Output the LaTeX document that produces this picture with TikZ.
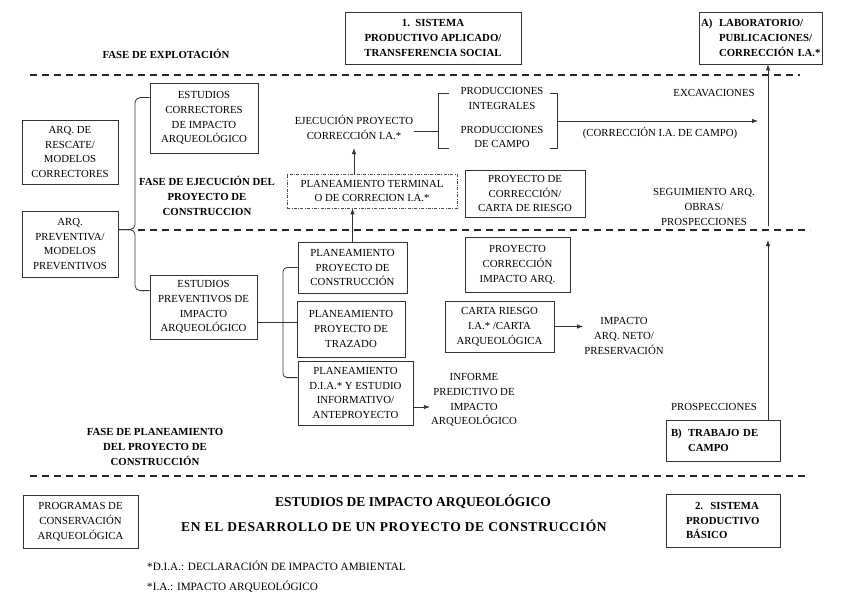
\documentclass[tikz,border=0pt]{standalone}
\usepackage{fontspec}
\setmainfont{Liberation Serif}
\usetikzlibrary{arrows.meta}
\begin{document}
\begin{tikzpicture}[x=1pt,y=-1pt,
  lw/.style={line width=0.8pt, draw=black!80},
  f/.style={font=\fontsize{10.8}{14.8}\selectfont},
  fb/.style={font=\fontsize{10.8}{14.8}\selectfont\bfseries},
  bx/.style={lw, f, align=center, inner sep=0pt},
  lbl/.style={f, align=center, inner sep=1pt},
  blbl/.style={fb, align=center, inner sep=1pt},
  phase/.style={line width=1.8pt, draw=black!85, dash pattern=on 7pt off 5pt},
  dd/.style={line width=0.6pt, draw=black!70, dash pattern=on 3pt off 1.5pt on 0.7pt off 1.5pt},
  arr/.style={lw, -{Latex[length=6pt,width=4.5pt]}},
  con/.style={lw},
]
\useasboundingbox (0,0) rectangle (848,599);
\fill[white] (0,0) rectangle (848,599);

% phase separators
\draw[phase] (30,75) -- (800,75);
\draw[phase] (138,230) -- (810,230);
\draw[phase] (30,476) -- (808,476);

% top row
\node[bx, fb, minimum width=176pt, minimum height=52pt] (sis1) at (433,38) {1.~~SISTEMA\\PRODUCTIVO APLICADO/\\TRANSFERENCIA SOCIAL};
\node[bx, fb, align=left, text width=119pt, inner xsep=2pt, minimum height=52pt] (lab) at (760.5,38) {\mbox{\makebox[18pt][l]{A)}LABORATORIO/}\\\mbox{\hspace*{18pt}PUBLICACIONES/}\\\mbox{\hspace*{18pt}CORRECCIÓN I.A.*}};
\node[blbl, anchor=base] (fex) at (166,58.6) {FASE DE EXPLOTACIÓN};

% left column
\node[bx, minimum width=96pt, minimum height=64pt] (ar) at (70,152) {ARQ. DE\\RESCATE/\\MODELOS\\CORRECTORES};
\node[bx, minimum width=96pt, minimum height=66pt] (ap) at (70,244) {ARQ.\\PREVENTIVA/\\MODELOS\\PREVENTIVOS};
\node[bx, minimum width=108pt, minimum height=70pt] (ec) at (204,118) {ESTUDIOS\\CORRECTORES\\DE IMPACTO\\ARQUEOLÓGICO};
\node[bx, minimum width=107pt, minimum height=64pt] (ep) at (203.5,307) {ESTUDIOS\\PREVENTIVOS DE\\IMPACTO\\ARQUEOLÓGICO};
\node[blbl] (fej) at (207,196) {FASE DE EJECUCIÓN DEL\\PROYECTO DE\\CONSTRUCCION};

% execution phase, middle
\node[lbl] (ej) at (354,127.5) {EJECUCIÓN PROYECTO\\CORRECCIÓN I.A.*};
\node[inner sep=0pt, minimum width=118pt, minimum height=54pt] (prod) at (498,121) {};
\node[lbl] (pi) at (502,98.5) {PRODUCCIONES\\INTEGRALES};
\node[lbl] (pc) at (502,137) {PRODUCCIONES\\DE CAMPO};
\node[bx, dd, minimum width=170pt, minimum height=34pt] (pt) at (372,191) {PLANEAMIENTO TERMINAL\\O DE CORRECION I.A.*};
\node[bx, minimum width=120pt, minimum height=47pt] (pcr) at (525,193.5) {PROYECTO DE\\CORRECCIÓN/\\CARTA DE RIESGO};
\node[lbl, anchor=base] (exc) at (714,96.6) {EXCAVACIONES};
\node[lbl, anchor=base] (cic) at (660,136.6) {(CORRECCIÓN I.A. DE CAMPO)};
\node[lbl] (seg) at (704,207) {SEGUIMIENTO ARQ.\\OBRAS/\\PROSPECCIONES};

% planning phase
\node[bx, minimum width=109pt, minimum height=51pt] (ppc) at (352.5,267.5) {PLANEAMIENTO\\PROYECTO DE\\CONSTRUCCIÓN};
\node[bx, minimum width=108pt, minimum height=56pt] (tr) at (351,329) {PLANEAMIENTO\\PROYECTO DE\\TRAZADO};
\node[bx, minimum width=115pt, minimum height=64pt] (dia) at (355.5,393) {PLANEAMIENTO\\D.I.A.* Y ESTUDIO\\INFORMATIVO/\\ANTEPROYECTO};
\node[lbl] (inf) at (474,400) {INFORME\\PREDICTIVO DE\\IMPACTO\\ARQUEOLÓGICO};
\node[bx, minimum width=105pt, minimum height=55pt] (pci) at (517.5,264.5) {PROYECTO\\CORRECCIÓN\\IMPACTO ARQ.};
\node[bx, minimum width=109pt, minimum height=51pt] (cr) at (499.5,326.5) {CARTA RIESGO\\I.A.* /CARTA\\ARQUEOLÓGICA};
\node[lbl] (imp) at (624,336) {IMPACTO\\ARQ. NETO/\\PRESERVACIÓN};
\node[lbl, anchor=base] (pros) at (714,410.6) {PROSPECCIONES};
\node[bx, fb, align=left, text width=104pt, inner xsep=5pt, minimum height=41pt] (tb) at (723,440.5) {\makebox[17pt][l]{B)}TRABAJO DE\\\hspace*{17pt}CAMPO};
\node[blbl] (fpl) at (155,447) {FASE DE PLANEAMIENTO\\DEL PROYECTO DE\\CONSTRUCCIÓN};

% bottom
\node[bx, minimum width=115pt, minimum height=53pt] (pcon) at (80.5,521.5) {PROGRAMAS DE\\CONSERVACIÓN\\ARQUEOLÓGICA};
\node[font=\fontsize{13.5}{16}\selectfont\bfseries, anchor=base, inner sep=0pt] (t1) at (413,506.5) {ESTUDIOS DE IMPACTO ARQUEOLÓGICO};
\node[font=\fontsize{13.5}{16}\selectfont\bfseries\addfontfeature{LetterSpace=5}, anchor=base, inner sep=0pt] (t2) at (394,531.5) {EN EL DESARROLLO DE UN PROYECTO DE CONSTRUCCIÓN};
\node[bx, fb, align=left, text width=74pt, inner xsep=20pt, minimum height=53pt] (sis2) at (723,520.5) {\hspace*{9pt}2.~~SISTEMA\\PRODUCTIVO\\BÁSICO};
\node[font=\fontsize{11.2}{14}\selectfont, anchor=base west, inner sep=0pt] (fn1) at (147,570.6) {*D.I.A.: DECLARACIÓN DE IMPACTO AMBIENTAL};
\node[font=\fontsize{11.2}{14}\selectfont, anchor=base west, inner sep=0pt] (fn2) at (147,590.6) {*I.A.: IMPACTO ARQUEOLÓGICO};

% left brace
\coordinate (bl) at (135,0);
\coordinate (apn) at ([yshift=-19pt]ap.north east);
\draw[con, rounded corners=5pt] ([yshift=-15pt]ec.north west) -| (bl |- apn) -- (apn);
\draw[con, rounded corners=5pt] ([yshift=-16pt]ep.north west) -| (bl |- apn) -- (apn);

% lower bracket
\coordinate (bs) at (283,0);
\coordinate (epr) at ([yshift=-48pt]ep.north east);
\coordinate (dian) at ([yshift=-17pt]dia.north west);
\draw[con] (epr) -- (epr -| tr.west);
\draw[con, rounded corners=4pt] (ppc.west) -| (bs |- dian) -- (dian);

% productions brackets
\draw[con] ([xshift=10pt]prod.north west) -- (prod.north west) -- (prod.south west) -- ([xshift=10pt]prod.south west);
\draw[con] ([xshift=-7pt]prod.north east) -- (prod.north east) -- (prod.south east) -- ([xshift=-7pt]prod.south east);
\coordinate (eje) at ([yshift=-4pt]ej.east);
\draw[con] (eje) -- (eje -| prod.west);
\coordinate (exend) at (758,121);
\draw[arr] (prod.east) -- (exend);

% vertical arrows
\coordinate (ejb) at (354,148);
\draw[arr] (ej.south |- pt.north) -- (ejb);
\draw[arr] (ppc.north) -- (ppc.north |- pt.south);
\coordinate (diae) at ([yshift=-14pt]dia.east);
\draw[arr] (diae) -- (diae -| inf.west);
\draw[arr] (cr.east) -- (cr.east -| imp.west);

% right side
\coordinate (xr) at (768,0);
\coordinate (rtop) at (768,226);
\coordinate (rbot) at (768,240);
\draw[arr] (rtop) -- (lab.south -| xr);
\draw[arr] (tb.north -| xr) -- (rbot);
\end{tikzpicture}
\end{document}
